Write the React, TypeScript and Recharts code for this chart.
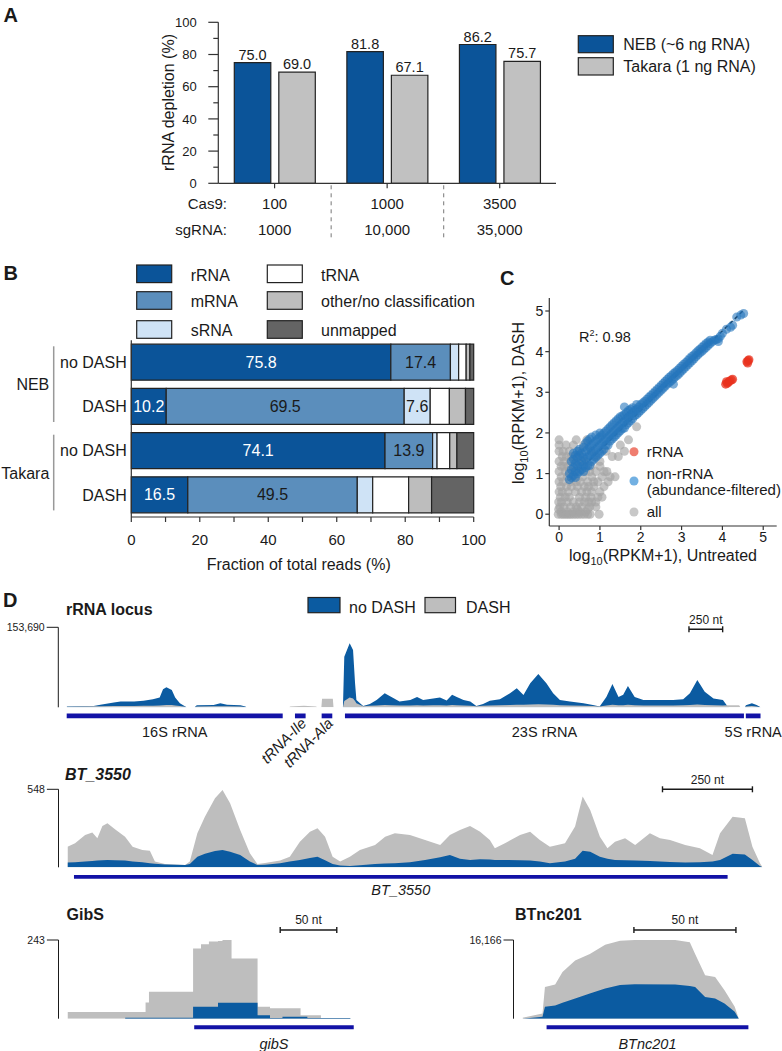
import React from "react";
import {
  BarChart,
  Bar,
  XAxis,
  YAxis,
  LabelList,
  ScatterChart,
  Scatter,
  ReferenceLine,
  AreaChart,
  Area,
  ComposedChart,
  ReferenceArea,
} from "recharts";

const FONT = "'Liberation Sans', Arial, Helvetica, sans-serif";
const INK = "#1a1a1a";
const AXIS = "#333";
const NEB_BLUE = "#0b5499";
const TAKARA_GRAY = "#c1c1c1";
const COV_BLUE = "#0b5ba1";
const COV_GRAY = "#bebebe";
const GENE_BLUE = "#1212a6";

// ---------- A: rRNA depletion
const cas9Amounts = ["100", "1000", "3500"];
const sgRNAAmounts = ["1000", "10,000", "35,000"];
const nebDepletion = [75.0, 81.8, 86.2];
const takaraDepletion = [69.0, 67.1, 75.7];
const depletionTicks = [0, 10, 20, 30, 40, 50, 60, 70, 80, 90, 100];

// ---------- B: read classification
const readKits = ["NEB", "NEB", "Takara", "Takara"];
const readSamples = ["no DASH", "DASH", "no DASH", "DASH"];
const fracRRNA = [75.8, 10.2, 74.1, 16.5];
const fracMRNA = [17.4, 69.5, 13.9, 49.5];
const fracSRNA = [2.4, 7.6, 1.3, 4.5];
const fracTRNA = [2.2, 5.6, 3.7, 10.5];
const fracOther = [1.1, 4.7, 2.1, 6.7];
const fracUnmapped = [1.1, 2.4, 4.9, 12.3];
const readClassKeys = ["rRNA", "mRNA", "sRNA", "tRNA", "other", "unmapped"];
const readClassNames = ["rRNA", "mRNA", "sRNA", "tRNA", "other/no classification", "unmapped"];
const readClassColors = ["#0b5499", "#5b8ebc", "#cfe3f6", "#ffffff", "#bdbdbd", "#646464"];
const readLabelColors = ["#ffffff", INK, INK, INK, INK, INK];
const fractionTicks = [0, 10, 20, 30, 40, 50, 60, 70, 80, 90, 100];

// ---------- C: log10(RPKM+1) scatter
// "all" genes, listed as rows: [DASH value, untreated values...]
const allGeneRows: [number, number[]][] = [
  [0, [-0.02, 0.05, 0.1, 0.15, 0.2, 0.25, 0.3, 0.36, 0.42, 0.48, 0.55, 0.62, 0.7, 0.76, 0.98]],
  [0.06, [0.05, 0.2, 0.35, 0.5, 0.65]],
  [0.12, [-0.01, 0.45, 0.7]],
  [0.18, [0.02, 0.12, 0.28, 0.42, 0.55, 0.75, 0.9]],
  [0.3, [-0.01, 0.06, 0.2, 0.35, 0.5, 0.62, 0.72, 0.8, 0.9]],
  [0.42, [0.03, 0.15, 0.25, 0.5, 0.65, 0.78, 0.95, 1.05]],
  [0.55, [0.0, 0.08, 0.22, 0.4, 0.55, 0.68, 0.8, 1.0]],
  [0.68, [0.04, 0.18, 0.3, 0.45, 0.62, 0.72, 0.85, 1.1]],
  [0.8, [0.0, 0.1, 0.28, 0.42, 0.52, 0.7, 0.85, 0.95, 1.2]],
  [0.92, [0.05, 0.2, 0.38, 0.58, 0.8, 1.05, 1.25, 1.37]],
  [1.05, [0.0, 0.15, 0.25, 0.35, 0.45, 0.65, 0.75, 0.9, 1.1, 1.17]],
  [1.18, [0.05, 0.12, 0.22, 0.38, 0.55, 0.78, 1.0]],
  [1.3, [0.0, 0.12, 0.28, 0.42, 0.6, 0.62, 1.0]],
  [1.42, [0.08, 0.18, 0.3, 0.38, 0.48, 0.9, 1.3, 1.45]],
  [1.55, [0.0, 0.1, 0.25, 0.5, 0.78, 1.15, 1.6]],
  [1.7, [0.0, 0.17, 0.35, 0.6, 1.5]],
  [1.83, [0.0, 0.42, 0.68, 1.7]],
  [2.15, [1.9]],
];
// non-rRNA (abundance-filtered), listed as columns: [untreated value, DASH values...]
const nonRrnaColumns: [number, number[]][] = [
  [0.25, [0.85, 1.0]],
  [0.3, [0.9, 1.1, 1.3]],
  [0.35, [0.95, 1.15, 1.35, 1.5]],
  [0.4, [0.9, 1.05, 1.25, 1.45]],
  [0.45, [1.0, 1.2, 1.4, 1.55]],
  [0.5, [1.05, 1.25, 1.45, 1.6]],
  [0.55, [1.1, 1.3, 1.5]],
  [0.6, [1.05, 1.2, 1.4, 1.65]],
  [0.65, [1.15, 1.35, 1.55, 1.75]],
  [0.7, [1.2, 1.4, 1.6, 1.8]],
  [0.75, [1.2, 1.45, 1.65, 1.85]],
  [0.8, [1.3, 1.5, 1.7, 1.9]],
  [0.85, [1.35, 1.55, 1.75]],
  [0.9, [1.4, 1.6, 1.8, 1.95]],
  [0.95, [1.45, 1.65, 1.85]],
  [1.0, [1.5, 1.7, 1.9, 2.0]],
  [1.05, [1.55, 1.75, 1.95]],
  [1.1, [1.6, 1.8, 2.0]],
  [1.15, [1.7, 1.85, 2.05]],
  [1.2, [1.7, 1.9, 2.1]],
  [1.25, [1.8, 1.95, 2.15]],
  [1.3, [1.85, 2.0, 2.2]],
  [1.35, [1.9, 2.05, 2.25]],
  [1.4, [1.95, 2.1, 2.3]],
  [1.45, [2.0, 2.15, 2.35]],
  [1.5, [2.05, 2.2, 2.4]],
  [1.55, [2.1, 2.25, 2.42]],
  [1.6, [2.12, 2.28, 2.45, 2.64]],
  [1.65, [2.2, 2.35, 2.5]],
  [1.7, [2.25, 2.4, 2.55]],
  [1.75, [2.3, 2.45, 2.58]],
  [1.8, [2.35, 2.5, 2.62]],
  [1.85, [2.42, 2.55]],
  [1.9, [2.45, 2.58, 2.7]],
  [1.95, [2.5, 2.64]],
  [2.0, [2.55, 2.7]],
  [2.05, [2.6, 2.74]],
  [2.1, [2.65, 2.78]],
  [2.15, [2.7, 2.83]],
  [2.2, [2.75, 2.88]],
  [2.25, [2.8, 2.92]],
  [2.3, [2.85, 2.97]],
  [2.35, [2.9, 3.02]],
  [2.4, [2.95, 3.07]],
  [2.45, [3.0, 3.12]],
  [2.5, [3.05, 3.17]],
  [2.55, [3.1, 3.22]],
  [2.6, [3.15, 3.27]],
  [2.65, [3.2, 3.32]],
  [2.7, [3.24, 3.37]],
  [2.75, [3.28, 3.41]],
  [2.8, [3.2, 3.33, 3.46]],
  [2.85, [3.38, 3.5]],
  [2.9, [3.42, 3.54]],
  [2.95, [3.47, 3.59]],
  [3.0, [3.52, 3.64]],
  [3.05, [3.57, 3.69]],
  [3.1, [3.62, 3.73]],
  [3.15, [3.67, 3.78]],
  [3.2, [3.72, 3.83]],
  [3.25, [3.77, 3.88]],
  [3.3, [3.82, 3.92]],
  [3.35, [3.87, 3.97]],
  [3.4, [3.92, 4.02]],
  [3.45, [3.97, 4.06]],
  [3.5, [4.01, 4.11]],
  [3.55, [4.06, 4.15]],
  [3.6, [4.1, 4.2]],
  [3.65, [4.15, 4.24]],
  [3.7, [4.2, 4.28]],
  [3.75, [4.24]],
  [3.8, [4.28]],
  [3.85, [4.3]],
  [3.9, [4.25, 4.32]],
  [3.95, [4.38]],
  [4.0, [4.45]],
  [4.1, [4.55]],
  [4.2, [4.6]],
  [4.25, [4.65]],
  [4.35, [4.85]],
  [4.45, [4.9]],
  [4.52, [4.94]],
];
const rrnaGenesScatter = [
  [4.08, 3.2], [4.12, 3.22], [4.15, 3.25], [4.18, 3.28], [4.22, 3.3], [4.25, 3.32], [4.1, 3.26],
  [4.6, 3.75], [4.63, 3.78], [4.65, 3.8], [4.62, 3.72],
];
const fitX = [0.25, 4.5];
const fitY = [0.84, 5.0];
const logTicks = [0, 1, 2, 3, 4, 5];

// ---------- D: coverage tracks (position in nt, reads)
const rrnaPos = [
  0, 100, 200, 250, 350, 400, 500, 570, 640, 690, 715, 740, 780, 805, 840, 880, 890, 950, 965,
  1090, 1140, 1190, 1290, 1325, 1335, 1650, 1660, 1760, 1850, 1860, 1890, 1895, 1975, 1980, 2050,
  2060, 2100, 2125, 2140, 2150, 2200, 2250, 2300, 2360, 2410, 2470, 2550, 2600, 2645, 2720, 2770,
  2820, 2860, 2895, 2945, 2995, 3040, 3090, 3140, 3215, 3290, 3340, 3390, 3440, 3500, 3560, 3610,
  3660, 3735, 3835, 3905, 3955, 4005, 4050, 4095, 4130, 4165, 4215, 4280, 4380, 4500, 4575, 4625,
  4680, 4735, 4800, 4870, 4905, 4915, 4990, 5000, 5035, 5040, 5085, 5120, 5150,
];
const rrnaNoDash = [
  1300, 2000, 2600, 5000, 9000, 11000, 11000, 12800, 15400, 19000, 34600, 38400, 33000, 19000, 7700,
  1300, 0, 0, 3800, 4500, 7700, 5000, 3800, 1300, 0, 0, 0, 0, 0, 0, 0, 0, 0, 0, 0,
  97000, 123000, 110000, 46000, 14000, 2600, 6400, 14000, 27000, 20000, 11000, 14000, 20000, 14000,
  17000, 19000, 13000, 24000, 20000, 14000, 11000, 2600, 6400, 12800, 15400, 27000, 36500, 23700,
  46000, 64000, 46000, 27000, 14000, 11000, 7700, 4500, 1300, 20000, 45000, 20000, 24000, 41000,
  20000, 14000, 14000, 14000, 15400, 27000, 52500, 30000, 17000, 14000, 1300, 0, 0, 0, 0, 3800,
  7700, 4500, 0,
];
const rrnaDash = [
  1000, 1500, 1800, 2000, 2500, 2600, 2600, 2800, 3000, 3500, 4000, 4500, 4500, 3500, 2500, 1000,
  0, 0, 1500, 1800, 2200, 1800, 1500, 800, 0, 0, 1500, 3200, 1500, 0, 0, 16600, 16600, 0, 0,
  12000, 19000, 17000, 12000, 8000, 2000, 3000, 3500, 4500, 4000, 3500, 3500, 4000, 3500, 3800,
  4000, 3500, 4200, 4000, 3500, 3000, 2000, 3000, 3500, 4000, 4500, 5000, 5000, 5500, 6000, 5500,
  5000, 4000, 3500, 3000, 2500, 1500, 3500, 5000, 4000, 4000, 5000, 4000, 3500, 3500, 3500, 3800,
  4500, 5500, 4500, 3800, 3500, 3800, 3800, 3800, 0, 0, 1500, 2500, 1500, 0,
];
const rrnaGeneNames = ["16S rRNA", "tRNA-Ile", "tRNA-Ala", "23S rRNA", "5S rRNA"];
const rrnaGeneStart = [0, 1694, 1892, 2065, 5040];
const rrnaGeneEnd = [1603, 1773, 1971, 5026, 5149];

const bt3550Pos = [
  0, 21, 49, 69, 83, 97, 111, 132, 160, 181, 208, 229, 243, 271, 327, 340, 361, 382, 410, 431, 452,
  480, 507, 528, 549, 591, 618, 646, 674, 695, 716, 737, 758, 785, 813, 855, 883, 910, 952, 994,
  1036, 1063, 1091, 1119, 1147, 1174, 1188, 1216, 1258, 1286, 1313, 1341, 1383, 1411, 1432, 1453,
  1480, 1501, 1522, 1550, 1578, 1619, 1647, 1675, 1717, 1758, 1793, 1814, 1849, 1883, 1904, 1925,
  1932,
];
const bt3550Dash = [
  145, 169, 227, 244, 204, 290, 309, 267, 215, 145, 122, 117, 40, 23, 16, 40, 239, 356, 485, 543,
  450, 262, 98, 23, 30, 47, 75, 180, 250, 274, 215, 75, 40, 75, 122, 157, 215, 239, 227, 192, 157,
  227, 262, 290, 250, 192, 133, 169, 227, 250, 192, 145, 169, 286, 497, 403, 215, 133, 180, 204,
  157, 239, 204, 192, 157, 133, 87, 239, 356, 344, 145, 28, 0,
];
const bt3550NoDash = [
  33, 35, 40, 45, 47, 50, 52, 50, 47, 40, 35, 28, 25, 20, 16, 23, 75, 95, 115, 122, 110, 87, 40, 16,
  18, 28, 40, 52, 65, 75, 50, 23, 12, 9, 15, 23, 26, 28, 35, 52, 70, 87, 60, 52, 56, 54, 52, 52,
  50, 47, 40, 28, 40, 60, 117, 110, 75, 60, 52, 50, 47, 44, 40, 38, 33, 35, 40, 52, 95, 90, 52, 10,
  0,
];

const gibsPos = [0, 51, 69, 72, 111, 118, 125, 133, 137, 145, 168, 179, 190, 206, 212, 224, 250];
const gibsDash = [21, 21, 50, 83, 217, 230, 238, 240, 243, 186, 37, 32, 32, 11, 11, 2, 0];
const gibsNoDash = [0, 3, 3, 3, 37, 37, 37, 49, 49, 49, 11, 2, 6, 6, 2, 2, 0];

const btnc201Pos = [0, 9.8, 11, 16, 19.6, 25.8, 33, 40.5, 47.8, 55, 74.8, 82, 84.6, 89.5, 94.4, 99, 104, 106];
const btnc201Dash = [200, 1086, 6500, 7000, 9570, 11950, 13300, 15200, 16000, 16166, 16166, 15700, 13300, 8900, 8550, 5840, 2440, 0];
const btnc201NoDash = [0, 400, 2440, 2700, 3300, 4140, 5160, 6180, 6900, 7060, 7000, 6700, 6520, 4480, 4140, 3120, 1430, 0];

const depletionData = cas9Amounts.map((c, i) => ({
  cas9: c,
  neb: nebDepletion[i],
  takara: takaraDepletion[i],
}));

const readKeys = readKits.map((k, i) => `${k} ${readSamples[i]}`);
const readData = readKeys.map((key, i) => ({
  key,
  rRNA: fracRRNA[i],
  mRNA: fracMRNA[i],
  sRNA: fracSRNA[i],
  tRNA: fracTRNA[i],
  other: fracOther[i],
  unmapped: fracUnmapped[i],
}));

const toXY = (pts: number[][]) => pts.map(([x, y]) => ({ x, y }));
const fromRows = (rows: [number, number[]][]) =>
  rows.flatMap(([y, xs]) => xs.map((x) => ({ x, y })));
const fromColumns = (cols: [number, number[]][]) =>
  cols.flatMap(([x, ys]) => ys.map((y) => ({ x, y })));

const zipTrack = (pos: number[], noDash: number[], dash: number[]) =>
  pos.map((p, i) => ({ pos: p, noDash: noDash[i], dash: dash[i] }));

const zipGenes = (names: string[], start: number[], end: number[]) =>
  names.map((name, i) => ({ name, start: start[i], end: end[i] }));

function DepletionYTick(props: any) {
  const { x, y, payload } = props;
  const major = payload.value % 20 === 0;
  return (
    <g>
      <line x1={x - (major ? 10 : 5)} x2={x} y1={y} y2={y} stroke={AXIS} strokeWidth={1.2} />
      {major && (
        <text x={x - 21.5} y={y} dy={4.7} textAnchor="end" fontSize={13} fill={INK}>
          {payload.value}
        </text>
      )}
    </g>
  );
}

function AmountTick(props: any) {
  const { x, y, payload } = props;
  const i = cas9Amounts.indexOf(payload.value);
  return (
    <g fontSize={15} fill={INK}>
      {i === 0 && (
        <>
          <text x={x - 47.6} y={y + 20.4} textAnchor="end">Cas9:</text>
          <text x={x - 47.6} y={y + 47.1} textAnchor="end">sgRNA:</text>
        </>
      )}
      {i > 0 && (
        <line x1={x - 56} x2={x - 56} y1={y - 3} y2={y + 49} stroke="#777" strokeDasharray="4 4" />
      )}
      <text x={x} y={y + 20.4} textAnchor="middle">{cas9Amounts[i]}</text>
      <text x={x} y={y + 47.1} textAnchor="middle">{sgRNAAmounts[i]}</text>
    </g>
  );
}

function FractionTick(props: any) {
  const { x, y, payload } = props;
  if (payload.value % 20 !== 0) return <g />;
  return (
    <text x={x} y={y} dy={22.7} textAnchor="middle" fontSize={15} fill={INK}>
      {payload.value}
    </text>
  );
}

function SampleTick(props: any) {
  const { x, y, payload } = props;
  const i = readKeys.indexOf(payload.value);
  return (
    <g>
      <text x={x} y={y} dy={5.7} textAnchor="end" fontSize={16} fill={INK}>
        {readSamples[i]}
      </text>
      {i % 2 === 0 && (
        <>
          <line x1={x - 73} x2={x - 73} y1={y - 16} y2={y + 59.7} stroke="#999" strokeWidth={1.5} />
          <text x={x - 77.4} y={y + 27.8} textAnchor="end" fontSize={16} fill={INK}>
            {readKits[i]}
          </text>
        </>
      )}
    </g>
  );
}

const scaleBarShape = (text: string, dy: number) => (p: any) => {
  const y = p.y1 + dy;
  return (
    <g>
      <line x1={p.x1} x2={p.x2} y1={y} y2={y} stroke={INK} strokeWidth={1.4} />
      <line x1={p.x1} x2={p.x1} y1={y - 3} y2={y + 3} stroke={INK} strokeWidth={1.4} />
      <line x1={p.x2} x2={p.x2} y1={y - 3} y2={y + 3} stroke={INK} strokeWidth={1.4} />
      <text x={(p.x1 + p.x2) / 2} y={y - 5.7} textAnchor="middle" fontSize={12} fill={INK}>
        {text}
      </text>
    </g>
  );
};

const tiltedLabel = (name: string) => (props: any) => {
  const { x, y, width, height } = props.viewBox;
  const ax = x + width / 2 + 7;
  const ay = y + height + 6;
  return (
    <text
      x={ax}
      y={ay}
      transform={`rotate(-45 ${ax} ${ay})`}
      textAnchor="end"
      fontSize={15}
      fontStyle="italic"
      fill={INK}
    >
      {name}
    </text>
  );
};

type TrackProps = {
  left: number;
  top: number;
  width: number;
  height: number;
  data: any[];
  length: number;
  yMax: number;
  axisWidth: number;
  padLeft: number;
  plotTop: number;
  plotBottom: number;
  right: number;
  tickSize: number;
  blueFront: boolean;
  step?: boolean;
  bar: { start: number; end: number; text: string; dy: number };
};

function CoverageTrack(t: TrackProps) {
  const curve = t.step ? "stepAfter" : "linear";
  const blue = (
    <Area key="b" dataKey="noDash" type={curve} fill={COV_BLUE} fillOpacity={1} stroke="none" isAnimationActive={false} dot={false} activeDot={false} />
  );
  const gray = (
    <Area key="g" dataKey="dash" type={curve} fill={COV_GRAY} fillOpacity={1} stroke="none" isAnimationActive={false} dot={false} activeDot={false} />
  );
  return (
    <div style={{ position: "absolute", left: t.left, top: t.top }}>
      <AreaChart
        width={t.width}
        height={t.height}
        data={t.data}
        margin={{ top: t.plotTop - t.top, right: t.right, bottom: t.top + t.height - t.plotBottom, left: 0 }}
      >
        <XAxis type="number" dataKey="pos" domain={[0, t.length]} hide padding={{ left: t.padLeft, right: 0 }} allowDataOverflow />
        <YAxis
          type="number"
          domain={[0, t.yMax]}
          ticks={[0, t.yMax]}
          width={t.axisWidth}
          tickSize={t.tickSize}
          tickMargin={2}
          axisLine={{ stroke: INK }}
          tickLine={{ stroke: INK }}
          tick={{ fontSize: 10.5, fill: INK }}
          tickFormatter={(v: number) => v.toLocaleString("en-US")}
          allowDataOverflow
        />
        {t.blueFront ? [gray, blue] : [blue, gray]}
        <ReferenceLine
          segment={[{ x: t.bar.start, y: t.yMax }, { x: t.bar.end, y: t.yMax }]}
          ifOverflow="visible"
          shape={scaleBarShape(t.bar.text, t.bar.dy)}
        />
      </AreaChart>
    </div>
  );
}

type GeneProps = {
  left: number;
  top: number;
  width: number;
  height: number;
  genes: { name: string; start: number; end: number }[];
  length: number;
  marginLeft: number;
  padLeft: number;
  right: number;
  barTop: number;
  barHeight: number;
  labelOffset: number;
  italic: boolean;
  tilted?: string[];
};

function GeneTrack(g: GeneProps) {
  return (
    <div style={{ position: "absolute", left: g.left, top: g.top }}>
      <ComposedChart
        width={g.width}
        height={g.height}
        data={g.genes}
        margin={{ top: g.barTop - g.top, right: g.right, bottom: g.top + g.height - g.barTop - g.barHeight, left: g.marginLeft }}
      >
        <XAxis type="number" dataKey="start" domain={[0, g.length]} hide padding={{ left: g.padLeft, right: 0 }} allowDataOverflow />
        <YAxis type="number" domain={[0, 1]} hide allowDataOverflow />
        {g.genes.map((gene) => (
          <ReferenceArea
            key={gene.name}
            x1={gene.start}
            x2={gene.end}
            y1={0}
            y2={1}
            ifOverflow="extendDomain"
            fill={GENE_BLUE}
            fillOpacity={1}
            stroke="none"
            label={
              g.tilted && g.tilted.includes(gene.name)
                ? tiltedLabel(gene.name)
                : {
                    value: gene.name,
                    position: "bottom",
                    offset: g.labelOffset,
                    fontSize: 14.5,
                    fill: INK,
                    fontStyle: g.italic ? "italic" : "normal",
                  }
            }
          />
        ))}
      </ComposedChart>
    </div>
  );
}

export default function App() {
  const rrnaTrack = zipTrack(rrnaPos, rrnaNoDash, rrnaDash);
  const btTrack = zipTrack(bt3550Pos, bt3550NoDash, bt3550Dash);
  const gibsTrack = zipTrack(gibsPos, gibsNoDash, gibsDash);
  const btncTrack = zipTrack(btnc201Pos, btnc201NoDash, btnc201Dash);
  const fitSegment = fitX.map((x, i) => ({ x, y: fitY[i] }));

  return (
    <div
      style={{
        position: "absolute",
        left: 0,
        top: 0,
        width: 782,
        height: 1051,
        background: "#fff",
        fontFamily: FONT,
        color: INK,
        overflow: "hidden",
      }}
    >
      {/* A */}
      <div style={{ position: "absolute", left: 0, top: 0 }}>
        <BarChart
          width={600}
          height={250}
          data={depletionData}
          margin={{ top: 22.3, right: 44, bottom: 6.7, left: 158.3 }}
          barGap={8}
        >
          <XAxis
            dataKey="cas9"
            height={60}
            axisLine={{ stroke: AXIS, strokeWidth: 1.2 }}
            tickLine={{ stroke: AXIS, strokeWidth: 1.2 }}
            tickSize={5}
            tickMargin={0}
            tick={(p: any) => <AmountTick {...p} />}
            interval={0}
          />
          <YAxis
            type="number"
            domain={[0, 100]}
            ticks={depletionTicks}
            width={60}
            tickSize={0}
            tickMargin={0}
            tickLine={false}
            axisLine={{ stroke: AXIS, strokeWidth: 1.2 }}
            tick={(p: any) => <DepletionYTick {...p} />}
            interval={0}
          />
          <Bar dataKey="neb" fill={NEB_BLUE} stroke="#222" strokeWidth={1.2} barSize={36.5} isAnimationActive={false}>
            <LabelList dataKey="neb" position="top" offset={3} fontSize={14.5} fill={INK} formatter={(v: any) => Number(v).toFixed(1)} />
          </Bar>
          <Bar dataKey="takara" fill={TAKARA_GRAY} stroke="#222" strokeWidth={1.2} barSize={36.5} isAnimationActive={false}>
            <LabelList dataKey="takara" position="top" offset={3} fontSize={14.5} fill={INK} formatter={(v: any) => Number(v).toFixed(1)} />
          </Bar>
        </BarChart>
      </div>

      {/* B */}
      <div style={{ position: "absolute", left: 0, top: 330 }}>
        <BarChart
          layout="vertical"
          width={500}
          height={245}
          data={readData}
          margin={{ top: 10.2, right: 26.3, bottom: 18, left: 51.3 }}
        >
          <XAxis
            type="number"
            domain={[0, 100]}
            ticks={fractionTicks}
            height={40}
            tickSize={5}
            tickMargin={0}
            axisLine={{ stroke: AXIS, strokeWidth: 1.2 }}
            tickLine={{ stroke: AXIS, strokeWidth: 1.2 }}
            tick={(p: any) => <FractionTick {...p} />}
            interval={0}
          />
          <YAxis
            type="category"
            dataKey="key"
            width={80}
            tickSize={0}
            tickMargin={4.6}
            tickLine={false}
            axisLine={{ stroke: AXIS, strokeWidth: 1.2 }}
            tick={(p: any) => <SampleTick {...p} />}
            interval={0}
          />
          {readClassKeys.map((k, i) => (
            <Bar
              key={k}
              dataKey={k}
              stackId="reads"
              fill={readClassColors[i]}
              stroke="#222"
              strokeWidth={1.2}
              barSize={36}
              isAnimationActive={false}
            >
              {i < 3 && (
                <LabelList
                  dataKey={k}
                  position="center"
                  fontSize={16}
                  fill={readLabelColors[i]}
                  formatter={(v: any) => (Number(v) > 5 ? Number(v).toFixed(1) : "")}
                />
              )}
            </Bar>
          ))}
        </BarChart>
      </div>

      {/* C */}
      <div style={{ position: "absolute", left: 500, top: 285 }}>
        <ScatterChart width={282} height={285} margin={{ top: 13, right: 5.3, bottom: 0, left: 9.3 }}>
          <XAxis
            type="number"
            dataKey="x"
            domain={[-0.24, 5.33]}
            ticks={logTicks}
            allowDataOverflow
            height={44}
            tickSize={4}
            tickMargin={2}
            axisLine={{ stroke: AXIS, strokeWidth: 1.2 }}
            tickLine={{ stroke: AXIS, strokeWidth: 1.2 }}
            tick={{ fontSize: 14, fill: INK }}
          />
          <YAxis
            type="number"
            dataKey="y"
            domain={[-0.29, 5.32]}
            ticks={logTicks}
            allowDataOverflow
            width={40}
            tickSize={4}
            tickMargin={2}
            axisLine={{ stroke: AXIS, strokeWidth: 1.2 }}
            tickLine={{ stroke: AXIS, strokeWidth: 1.2 }}
            tick={{ fontSize: 14, fill: INK }}
          />
          <Scatter data={fromRows(allGeneRows)} fill="#a4a4a4" fillOpacity={0.65} isAnimationActive={false} />
          <Scatter data={fromColumns(nonRrnaColumns)} fill="#2677bd" fillOpacity={0.6} isAnimationActive={false} />
          <Scatter data={toXY(rrnaGenesScatter)} fill="#e8321e" fillOpacity={0.75} isAnimationActive={false} />
          <ReferenceLine segment={fitSegment} stroke="#111" strokeWidth={1.6} strokeDasharray="4 3" />
        </ScatterChart>
      </div>

      {/* D tracks */}
      <CoverageTrack
        left={0} top={612} width={782} height={100} data={rrnaTrack} length={5160} yMax={153690}
        axisWidth={58.3} padLeft={8.4} plotTop={627.3} plotBottom={707.3} right={20} tickSize={11.6}
        blueFront={false} bar={{ start: 4618, end: 4868, text: "250 nt", dy: 2 }}
      />
      <GeneTrack
        left={0} top={713} width={782} height={72} genes={zipGenes(rrnaGeneNames, rrnaGeneStart, rrnaGeneEnd)}
        length={5160} marginLeft={58.3} padLeft={8.4} right={20} barTop={713.5} barHeight={4.8}
        labelOffset={8.2} italic={false} tilted={["tRNA-Ile", "tRNA-Ala"]}
      />
      <CoverageTrack
        left={0} top={770} width={782} height={100} data={btTrack} length={1932} yMax={548}
        axisWidth={58.5} padLeft={9} plotTop={789.3} plotBottom={867.3} right={19.5} tickSize={11.6}
        blueFront={true} bar={{ start: 1654, end: 1904, text: "250 nt", dy: 0 }}
      />
      <GeneTrack
        left={0} top={872} width={782} height={30} genes={zipGenes(["BT_3550"], [18], [1835])}
        length={1932} marginLeft={58.5} padLeft={9} right={19.5} barTop={875} barHeight={3.7}
        labelOffset={6} italic={true}
      />
      <CoverageTrack
        left={0} top={905} width={380} height={116} data={gibsTrack} length={255} yMax={243}
        axisWidth={58.5} padLeft={9} plotTop={940} plotBottom={1018.7} right={24} tickSize={11.6}
        blueFront={true} step bar={{ start: 188, end: 238, text: "50 nt", dy: -10 }}
      />
      <GeneTrack
        left={0} top={1022} width={380} height={29} genes={zipGenes(["gibS"], [112], [253])}
        length={255} marginLeft={58.5} padLeft={9} right={24} barTop={1025.3} barHeight={4}
        labelOffset={9.5} italic={true}
      />
      <CoverageTrack
        left={440} top={905} width={342} height={116} data={btncTrack} length={111} yMax={16166}
        axisWidth={73.5} padLeft={9} plotTop={940} plotBottom={1018.7} right={33} tickSize={10}
        blueFront={true} bar={{ start: 54.6, end: 104.6, text: "50 nt", dy: -10 }}
      />
      <GeneTrack
        left={440} top={1022} width={342} height={29} genes={zipGenes(["BTnc201"], [11.8], [110.7])}
        length={111} marginLeft={73.5} padLeft={9} right={33} barTop={1025.3} barHeight={4}
        labelOffset={9.5} italic={true}
      />

      {/* text overlay: panel letters, legends, axis titles */}
      <svg
        width={782}
        height={1051}
        style={{ position: "absolute", left: 0, top: 0, pointerEvents: "none" }}
        fontFamily={FONT}
        fill={INK}
      >
        <g fontSize={20} fontWeight="bold">
          <text x={3.5} y={21.7}>A</text>
          <text x={3.5} y={280}>B</text>
          <text x={500} y={285}>C</text>
          <text x={3} y={607}>D</text>
        </g>

        {/* A legend + y title */}
        <rect x={578.3} y={35.7} width={35} height={17} fill={NEB_BLUE} stroke="#222" strokeWidth={1.2} />
        <rect x={578.3} y={57.7} width={35} height={17.3} fill={TAKARA_GRAY} stroke="#222" strokeWidth={1.2} />
        <text x={623.3} y={49.9} fontSize={16}>NEB (~6 ng RNA)</text>
        <text x={623.3} y={72} fontSize={16}>Takara (1 ng RNA)</text>
        <text transform="translate(173.7,102.5) rotate(-90)" textAnchor="middle" fontSize={16}>
          rRNA depletion (%)
        </text>

        {/* B legend + x title */}
        {readClassNames.map((name, i) => {
          const col = i < 3 ? 0 : 1;
          const row = i % 3;
          const boxY = [265, 291.7, 320.7][row];
          const textY = [280.7, 307.4, 335.7][row];
          return (
            <g key={name}>
              <rect
                x={col === 0 ? 136.7 : 267.3}
                y={boxY}
                width={35}
                height={17.6}
                fill={readClassColors[i]}
                stroke="#222"
                strokeWidth={1.2}
              />
              <text x={col === 0 ? 190.7 : 321} y={textY} fontSize={16}>{name}</text>
            </g>
          );
        })}
        <text x={298.7} y={569.7} textAnchor="middle" fontSize={16}>Fraction of total reads (%)</text>

        {/* C annotations */}
        <text x={579} y={342.2} fontSize={14.5}>
          R<tspan fontSize={9} dy={-6}>2</tspan>
          <tspan dy={6}>: 0.98</tspan>
        </text>
        <circle cx={634} cy={451.7} r={4.5} fill="#ef7d6f" />
        <circle cx={634} cy={481} r={4.5} fill="#72b0e2" />
        <circle cx={634} cy={512} r={4.5} fill="#c8c8c8" />
        <g fontSize={15}>
          <text x={646.7} y={457.4}>rRNA</text>
          <text x={646.7} y={478.7}>non-rRNA</text>
          <text x={646.7} y={495.4}>(abundance-filtered)</text>
          <text x={646.7} y={517.4}>all</text>
        </g>
        <text x={663} y={560.7} textAnchor="middle" fontSize={16}>
          log<tspan fontSize={11} dy={4}>10</tspan>
          <tspan dy={-4}>(RPKM+1), Untreated</tspan>
        </text>
        <text transform="translate(523.7,403) rotate(-90)" textAnchor="middle" fontSize={16}>
          log<tspan fontSize={11} dy={4}>10</tspan>
          <tspan dy={-4}>(RPKM+1), DASH</tspan>
        </text>

        {/* D titles + legend */}
        <g fontSize={16} fontWeight="bold">
          <text x={66} y={615}>rRNA locus</text>
          <text x={65} y={780} fontStyle="italic">BT_3550</text>
          <text x={66.5} y={920}>GibS</text>
          <text x={515} y={920}>BTnc201</text>
        </g>
        <rect x={308} y={597.5} width={32} height={15.2} fill={COV_BLUE} stroke="#222" strokeWidth={1.2} />
        <text x={349} y={612.7} fontSize={16}>no DASH</text>
        <rect x={425} y={597.5} width={30.5} height={15.2} fill={COV_GRAY} stroke="#222" strokeWidth={1.2} />
        <text x={466} y={612.7} fontSize={16}>DASH</text>
      </svg>
    </div>
  );
}
